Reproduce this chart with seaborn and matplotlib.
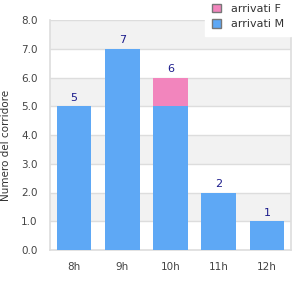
import matplotlib
matplotlib.use("Agg")
import matplotlib.pyplot as plt
import seaborn as sns
import pandas as pd
from matplotlib.patches import Patch

hours = ["8h", "9h", "10h", "11h", "12h"]
arrivati_M = [5, 7, 5, 2, 1]
arrivati_F = [0, 0, 1, 0, 0]
y_ticks = [0, 1, 2, 3, 4, 5, 6, 7, 8]
y_label = "Numero del corridore"

pink = "#F285BD"
blue = "#5EA8F5"
navy = "#1C1C8C"

sns.set_theme(style="white")
plt.rcParams["font.family"] = ["DejaVu Sans"]

totals = [m + f for m, f in zip(arrivati_M, arrivati_F)]
df = pd.DataFrame({"ora": hours, "M": arrivati_M, "F": arrivati_F, "tot": totals})

fig = plt.figure(figsize=(3, 3), dpi=100)
ax = fig.add_axes([50/300, 50/300, 241/300, 230/300])

# alternating bands
for i in range(len(y_ticks) - 1):
    if i % 2 == 1:
        ax.axhspan(y_ticks[i], y_ticks[i + 1], color="#F2F2F2", zorder=0, lw=0)
for t in y_ticks[1:]:
    ax.axhline(t, color="#DDDDDD", lw=1, zorder=0.5)

sns.barplot(data=df, x="ora", y="tot", color=pink, width=0.72, saturation=1,
            ax=ax, zorder=2, linewidth=0, edgecolor="none")
sns.barplot(data=df, x="ora", y="M", color=blue, width=0.72, saturation=1,
            ax=ax, zorder=3, linewidth=0, edgecolor="none")

for i, t in enumerate(totals):
    ax.text(i, t + 0.12, str(t), ha="center", va="bottom", color=navy, fontsize=8, zorder=4)

ax.set_ylim(y_ticks[0], y_ticks[-1])
ax.set_xlim(-0.5, len(hours) - 0.5)
ax.set_yticks(y_ticks)
ax.set_yticklabels([f"{v:.1f}" for v in y_ticks])
ax.tick_params(axis="both", length=0, labelsize=7.5, labelcolor="#444444")
ax.tick_params(axis="x", pad=9)
ax.tick_params(axis="y", pad=9)
ax.set_xlabel("")
ax.set_ylabel("")
fig.text(6/300, 0.5 + 5/300, y_label, rotation=90, ha="center", va="center",
         fontsize=7.5, color="#333333")

for side in ["left", "bottom", "right"]:
    ax.spines[side].set_visible(True)
    ax.spines[side].set_color("#DDDDDD")
    ax.spines[side].set_linewidth(1.2)
ax.spines["top"].set_visible(False)

handles = [Patch(facecolor=pink, edgecolor="#777777", label="arrivati F"),
           Patch(facecolor=blue, edgecolor="#777777", label="arrivati M")]
leg = fig.legend(handles=handles, loc="upper right", bbox_to_anchor=(0.96, 1.0),
                 frameon=True, fontsize=8, handlelength=0.8, handleheight=0.8,
                 handletextpad=0.9, borderpad=0.35, labelspacing=0.45, borderaxespad=0)
leg.get_frame().set_facecolor("white")
leg.get_frame().set_edgecolor("white")
leg.get_frame().set_alpha(1)
leg.get_frame().set_boxstyle("square", pad=0.3)
leg.set_zorder(10)
for txt in leg.get_texts():
    txt.set_color("#333333")

fig.savefig("out.png", dpi=100)
